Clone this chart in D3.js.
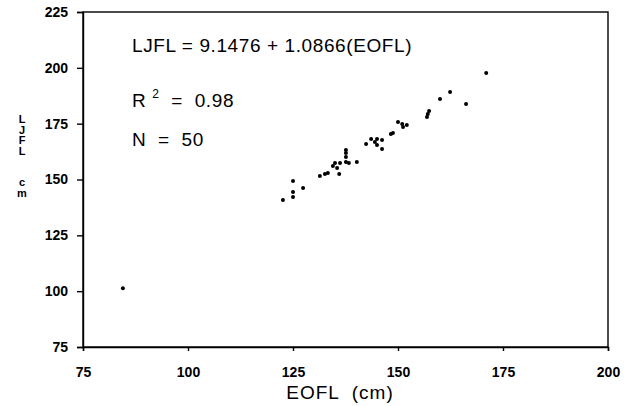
<!DOCTYPE html>
<meta charset="utf-8">
<style>
body { margin: 0; background: #fff; }
svg { font-family: "Liberation Sans", Arial, sans-serif; }
.axis path, .axis line { fill: none; stroke: #000; stroke-width: 1.4; }
.axis text { font-size: 14px; font-weight: bold; fill: #000; }
.dot { fill: #000; }
.note { font-size: 19px; fill: #000; white-space: pre; letter-spacing: 0.6px; }
</style>
<body>
<script src="https://cdn.jsdelivr.net/npm/d3@7"></script>
<script>
// EOFL (x) and LJFL (y)
var eofl = [84.5, 122.6, 125.0, 125.0, 125.0, 127.4, 131.4, 132.6, 133.3, 134.5,
            135.0, 135.5, 136.0, 136.2, 137.6, 137.6, 137.6, 137.6, 138.3, 140.2,
            142.4, 143.6, 144.5, 145.0, 145.0, 146.2, 146.2, 148.3, 148.8, 150.0,
            151.0, 152.1, 151.2, 156.9, 157.1, 157.4, 160.0, 162.4, 166.2, 171.0];
var ljfl = [101.3, 140.8, 149.3, 144.4, 142.2, 146.2, 151.6, 152.5, 152.9, 156.0,
            157.4, 155.1, 152.5, 157.4, 163.2, 161.9, 160.1, 157.8, 157.4, 157.8,
            165.9, 168.1, 166.8, 165.4, 168.1, 167.7, 163.7, 170.4, 170.8, 175.7,
            174.8, 174.4, 173.5, 178.0, 179.3, 180.7, 186.0, 189.2, 183.8, 197.7];
var xTicks = [75, 100, 125, 150, 175, 200];
var yTicks = [75, 100, 125, 150, 175, 200, 225];

var margin = {top: 12, right: 17, bottom: 59, left: 83},
    width = 625 - margin.left - margin.right,
    height = 406 - margin.top - margin.bottom;

var x = d3.scaleLinear().domain([75, 200]).range([0, width]);
var y = d3.scaleLinear().domain([75, 225]).range([height, 0]);

var svg = d3.select("body").append("svg")
    .attr("width", 625)
    .attr("height", 406)
  .append("g")
    .attr("transform", "translate(" + margin.left + "," + margin.top + ")");

svg.append("g")
    .attr("class", "x axis")
    .attr("transform", "translate(0," + height + ")")
    .call(d3.axisBottom(x).tickValues(xTicks).tickSize(4).tickPadding(16));

svg.append("g")
    .attr("class", "y axis")
    .call(d3.axisLeft(y).tickValues(yTicks).tickSize(6).tickPadding(9));

// closing the frame
svg.append("rect")
    .attr("width", width)
    .attr("height", height)
    .style("fill", "none")
    .style("stroke", "#000")
    .style("stroke-width", 1.4);

svg.selectAll(".dot")
    .data(eofl)
  .enter().append("circle")
    .attr("class", "dot")
    .attr("r", 2)
    .attr("cx", function(d) { return x(d); })
    .attr("cy", function(d, i) { return y(ljfl[i]); });

svg.append("text")
    .attr("x", 257)
    .attr("y", height + 52)
    .style("text-anchor", "middle")
    .style("font-size", "19px")
    .style("letter-spacing", "1px")
    .style("white-space", "pre")
    .text("EOFL  (cm)");

// stacked y label
var yLab = ["L", "J", "F", "L", "", "", "c", "m"];
svg.append("g").selectAll("text")
    .data(yLab)
  .enter().append("text")
    .attr("x", -61)
    .attr("y", function(d, i) { return 111 + i * 10.5; })
    .style("text-anchor", "middle")
    .style("font-size", "11px")
    .style("font-weight", "bold")
    .text(function(d) { return d; });

svg.append("text")
    .attr("class", "note")
    .attr("x", 49)
    .attr("y", 40)
    .text("LJFL = 9.1476 + 1.0866(EOFL)");

var r2 = svg.append("text")
    .attr("class", "note")
    .attr("x", 49)
    .attr("y", 95);
r2.append("tspan").text("R ");
r2.append("tspan").attr("dy", -9).style("font-size", "12px").text("2");
r2.append("tspan").attr("dy", 9).text("  =  0.98");

svg.append("text")
    .attr("class", "note")
    .attr("x", 49)
    .attr("y", 134)
    .text("N  =  50");
</script>
</body>
